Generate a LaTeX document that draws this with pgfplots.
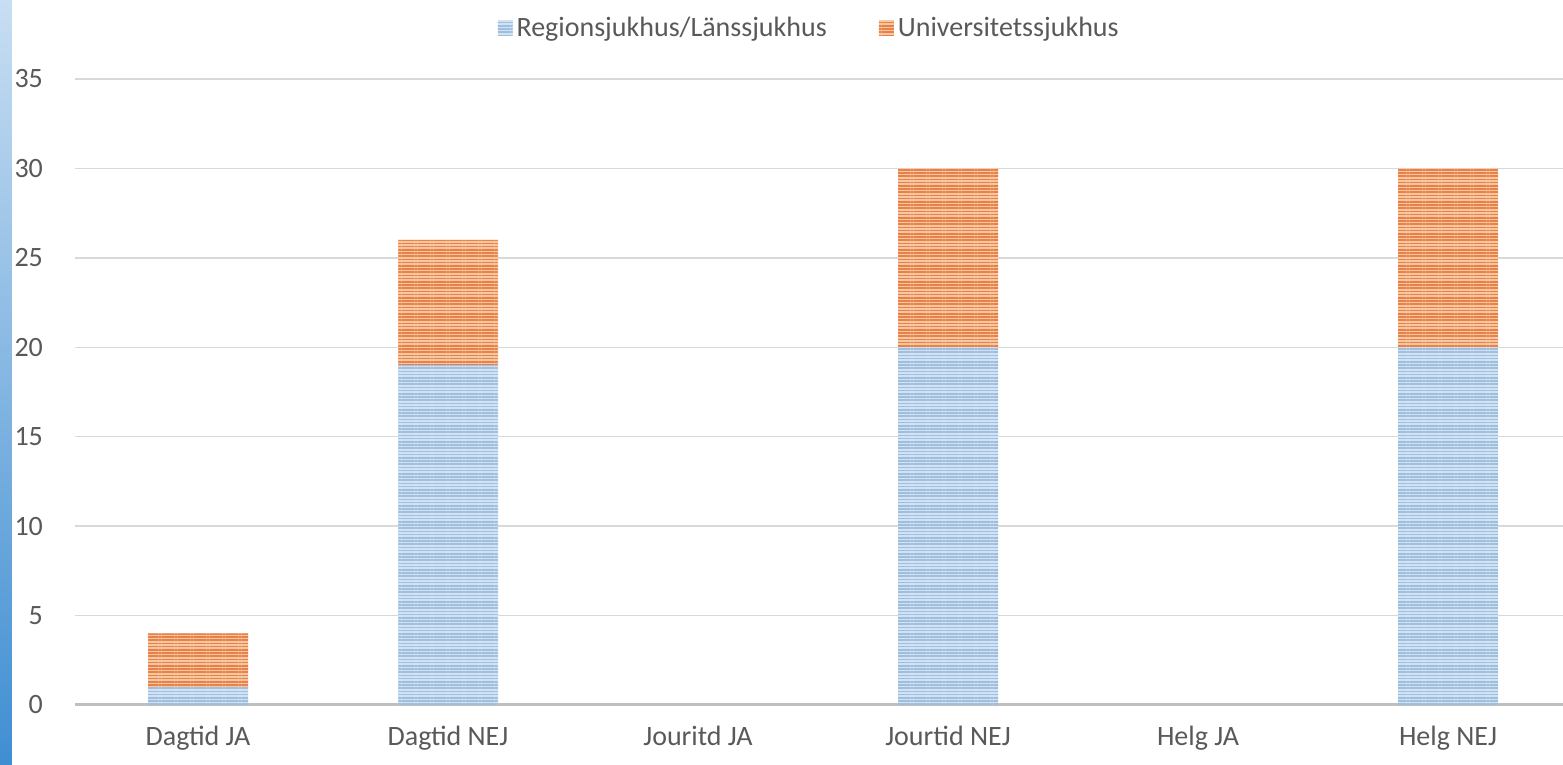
\documentclass[border=0pt]{standalone}
\usepackage{pgfplots}
\pgfplotsset{compat=1.18}
\usetikzlibrary{patterns.meta}
\usepackage{fontspec}
\setmainfont{Carlito}
\definecolor{txt}{HTML}{595959}
\definecolor{grd}{HTML}{D9D9D9}
\definecolor{axl}{HTML}{BFBFBF}
\definecolor{blueL}{HTML}{D2E2F2}
\definecolor{blueD}{HTML}{9DBEDD}
\definecolor{orL}{HTML}{F7C7A2}
\definecolor{orD}{HTML}{E8804A}
\definecolor{stripT}{HTML}{C8DEF2}
\definecolor{stripB}{HTML}{3F8ED2}
\begin{document}
\begin{tikzpicture}
\useasboundingbox (-37.5pt,-30pt) rectangle (744pt,352.5pt);
\shade[top color=stripT, bottom color=stripB] (-37.5pt,-30pt) rectangle (-31.5pt,352.5pt);
\begin{axis}[
  at={(0pt,0pt)}, anchor=south west,
  scale only axis, width=744pt, height=313pt,
  ybar stacked, bar width=50pt,
  xmin=-0.492, xmax=5.46, ymin=0, ymax=35,
  xtick={0,1,2,3,4,5},
  xticklabels={Dagtid JA, Dagtid NEJ, Jouritd JA, Jourtid NEJ, Helg JA, Helg NEJ},
  ytick={0,5,...,35},
  axis x line*=bottom, axis y line*=left,
  x axis line style={draw=axl, line width=1.5pt, -},
  y axis line style={draw=none},
  ymajorgrids, grid style={draw=grd, line width=0.75pt},
  major tick length=0pt,
  tick label style={font=\fontsize{14}{17}\selectfont, text=txt},
  /pgf/number format/assume math mode=true,
  yticklabel style={anchor=east, xshift=-12.5pt},
  xticklabel style={yshift=-7pt},
  legend style={at={(axis description cs:0.494,1.0815)}, anchor=center, draw=none, fill=none,
    legend columns=2, font=\fontsize{14}{17}\selectfont, text=txt,
    /tikz/every even column/.append style={column sep=24pt}},
  legend cell align=left,
  legend image code/.code={\fill[#1] (0pt,-3.75pt) rectangle (7.5pt,3.75pt);},
]
\addplot[fill=blueL, draw=none, postaction={pattern={Lines[angle=0,distance=1.6pt,line width=0.8pt]}, pattern color=blueD}]
  coordinates {(0,1) (1,19) (2,0) (3,20) (4,0) (5,20)};
\addlegendentry{Regionsjukhus/Länssjukhus}
\addplot[fill=orL, draw=none, postaction={pattern={Lines[angle=0,distance=1.6pt,line width=0.8pt]}, pattern color=orD}]
  coordinates {(0,3) (1,7) (2,0) (3,10) (4,0) (5,10)};
\addlegendentry{Universitetssjukhus}
\end{axis}
\end{tikzpicture}
\end{document}
